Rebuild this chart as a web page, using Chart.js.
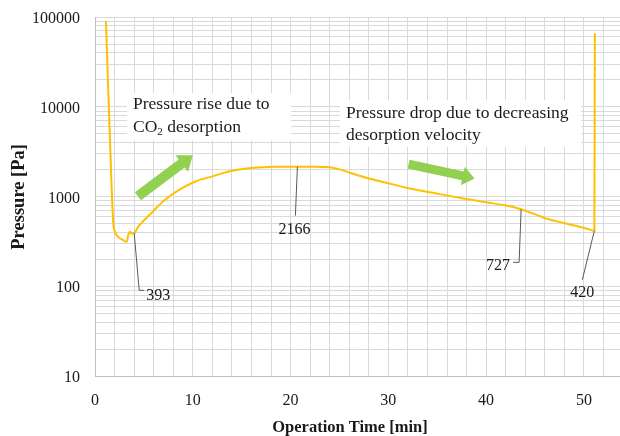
<!DOCTYPE html>
<html>
<head>
<meta charset="utf-8">
<script src="https://cdn.jsdelivr.net/npm/chart.js@4"></script>
<style>
  html, body { margin: 0; padding: 0; background: #fff; overflow: hidden; }
  #wrap { width: 623px; height: 436px; }
</style>
</head>
<body>
<div id="wrap"><canvas id="chart"></canvas></div>
<script>
// pressure curve (time in min, pressure in Pa)
const timeMin = [1.12, 1.71, 1.87, 2.04, 2.38, 2.89, 3.24, 3.40, 3.58, 3.75, 4.01, 4.4, 5.1, 5.94, 6.98,
  8.68, 10.39, 12.08, 13.79, 15.5, 17.19, 18.9, 20.7, 22.3, 23.67, 25.03, 26.05, 27.75, 29.8, 31.84,
  34.56, 37.28, 40.0, 42.05, 43.58, 44.77, 46.14, 48.18, 50.22, 51.07, 51.12];
const pressurePa = [90300, 1190, 510, 408, 359, 330, 316, 375, 408, 392, 393, 464, 560, 690, 895,
  1210, 1500, 1700, 1930, 2070, 2140, 2160, 2166, 2166, 2150, 2020, 1855, 1630, 1435, 1265,
  1110, 975, 870, 800, 727, 654, 575, 506, 445, 420, 65900];

// labelled points
const markTimes = [4.01, 20.7, 43.58, 51.07];
const markValues = [393, 2166, 727, 420];

const xTickLabels = [0, 10, 20, 30, 40, 50];
const yTickLabels = [10, 100, 1000, 10000, 100000];

// arrows: [startTime, startPressure, tipTime, tipPressure]
const arrowRise = [4.39, 1018, 10.01, 2904];
const arrowDrop = [32.07, 2306, 38.82, 1600];

const SERIF = "'Liberation Serif', 'DejaVu Serif', serif";
const TEXT = "#1a1a1a";
const GRID = "#d9d9d9";

// leader line geometry for each label (pixel offsets from the point)
const leaders = [
  { path: [[5, 57], [10, 57]], text: [12, 62], align: "left" },
  { path: [[-2, 49]], text: [-3, 63], align: "center" },
  { path: [[-2, 53], [-8, 53]], text: [-11, 56], align: "right" },
  { path: [[-12, 49]], text: [-12, 62], align: "center" },
];

function drawArrow(ctx, sx, sy, tx, ty, shaftW, headW, headL) {
  const len = Math.hypot(tx - sx, ty - sy);
  const ux = (tx - sx) / len, uy = (ty - sy) / len;
  const nx = -uy, ny = ux;
  const bx = tx - ux * headL, by = ty - uy * headL;
  ctx.beginPath();
  ctx.moveTo(sx + nx * shaftW / 2, sy + ny * shaftW / 2);
  ctx.lineTo(bx + nx * shaftW / 2, by + ny * shaftW / 2);
  ctx.lineTo(bx + nx * headW / 2, by + ny * headW / 2);
  ctx.lineTo(tx, ty);
  ctx.lineTo(bx - nx * headW / 2, by - ny * headW / 2);
  ctx.lineTo(bx - nx * shaftW / 2, by - ny * shaftW / 2);
  ctx.lineTo(sx - nx * shaftW / 2, sy - ny * shaftW / 2);
  ctx.closePath();
  ctx.fill();
}

const notes = {
  id: "notes",
  beforeDatasetsDraw(chart) {
    const ctx = chart.ctx;
    ctx.save();
    // white boxes behind the comments hide the grid
    ctx.fillStyle = "#fff";
    ctx.fillRect(127, 93, 164, 47);
    ctx.fillRect(340, 100, 241, 47);
    ctx.fillStyle = TEXT;
    ctx.textBaseline = "middle";
    ctx.textAlign = "left";
    ctx.font = "17.5px " + SERIF;
    ctx.fillText("Pressure rise due to", 133, 104.5);
    ctx.fillText("CO", 133, 127);
    let w = ctx.measureText("CO").width;
    ctx.font = "11px " + SERIF;
    ctx.fillText("2", 133 + w, 132);
    const w2 = ctx.measureText("2").width;
    ctx.font = "17.5px " + SERIF;
    ctx.fillText(" desorption", 133 + w + w2, 127);
    ctx.fillText("Pressure drop due to decreasing", 346, 113.5);
    ctx.fillText("desorption velocity", 346, 135);
    ctx.restore();
  },
  afterDatasetsDraw(chart) {
    const ctx = chart.ctx;
    const xs = chart.scales.x, ys = chart.scales.y;
    ctx.save();
    ctx.fillStyle = "#92d050";
    drawArrow(ctx, xs.getPixelForValue(arrowRise[0]), ys.getPixelForValue(arrowRise[1]),
      xs.getPixelForValue(arrowRise[2]), ys.getPixelForValue(arrowRise[3]), 10, 21, 14);
    drawArrow(ctx, xs.getPixelForValue(arrowDrop[0]), ys.getPixelForValue(arrowDrop[1]),
      xs.getPixelForValue(arrowDrop[2]), ys.getPixelForValue(arrowDrop[3]), 9, 19, 12);

    ctx.strokeStyle = "#595959";
    ctx.lineWidth = 1;
    ctx.fillStyle = TEXT;
    ctx.font = "16px " + SERIF;
    ctx.textBaseline = "middle";
    markTimes.forEach((t, i) => {
      const px = xs.getPixelForValue(t), py = ys.getPixelForValue(markValues[i]);
      const ld = leaders[i];
      ctx.beginPath();
      ctx.moveTo(px, py);
      ld.path.forEach(([dx, dy]) => ctx.lineTo(px + dx, py + dy));
      ctx.stroke();
      ctx.textAlign = ld.align;
      ctx.fillText(String(markValues[i]), px + ld.text[0], py + ld.text[1]);
    });

    // x axis title, placed like the original (a bit left of the plot centre)
    ctx.font = "bold 16.5px " + SERIF;
    ctx.textAlign = "center";
    ctx.fillText("Operation Time [min]", 350, 427.5);
    ctx.restore();
  },
};

// every log gridline: 10, 20, ... 90, 100, 200, ...
function logGridValues() {
  const vals = [];
  for (let d = 10; d < 100000; d *= 10) {
    for (let k = 1; k <= 9; k++) vals.push(d * k);
  }
  vals.push(100000);
  return vals;
}

new Chart(document.getElementById("chart"), {
  type: "line",
  data: {
    datasets: [{
      data: timeMin.map((t, i) => ({ x: t, y: pressurePa[i] })),
      borderColor: "#ffc000",
      borderWidth: 2,
      pointRadius: 0,
      fill: false,
      cubicInterpolationMode: "monotone",
    }],
  },
  options: {
    responsive: true,
    maintainAspectRatio: false,
    animation: false,
    layout: { padding: { top: 17, right: 0, bottom: 0, left: 0 } },
    plugins: { legend: { display: false }, tooltip: { enabled: false } },
    scales: {
      x: {
        type: "linear",
        min: 0,
        max: 54,
        afterFit: (s) => {
          s.height = 59.3;
          s.paddingLeft = 0;
          s.paddingRight = 0;
        },
        grid: { color: GRID, lineWidth: 1, drawTicks: false },
        border: { color: "#bfbfbf" },
        ticks: {
          stepSize: 2,
          autoSkip: false,
          maxRotation: 0,
          padding: 14,
          color: TEXT,
          font: { family: SERIF, size: 16 },
          callback: (v) => (xTickLabels.includes(v) ? String(v) : ""),
        },
        title: { display: false },
      },
      y: {
        type: "logarithmic",
        min: 10,
        max: 100000,
        afterFit: (s) => {
          s.width = 95;
          s.paddingTop = 0;
          s.paddingBottom = 0;
        },
        afterBuildTicks: (s) => { s.ticks = logGridValues().map((v) => ({ value: v })); },
        grid: { color: GRID, lineWidth: 1, drawTicks: false },
        border: { color: "#bfbfbf" },
        ticks: {
          autoSkip: false,
          padding: 15,
          labelOffset: 1.5,
          color: TEXT,
          font: { family: SERIF, size: 16 },
          callback: (v) => (yTickLabels.includes(v) ? String(v) : ""),
        },
        title: {
          display: true,
          text: "Pressure [Pa]",
          color: TEXT,
          font: { family: SERIF, size: 18.5, weight: "bold" },
          padding: { top: 8, bottom: 0 },
        },
      },
    },
  },
  plugins: [notes],
});
</script>
</body>
</html>
